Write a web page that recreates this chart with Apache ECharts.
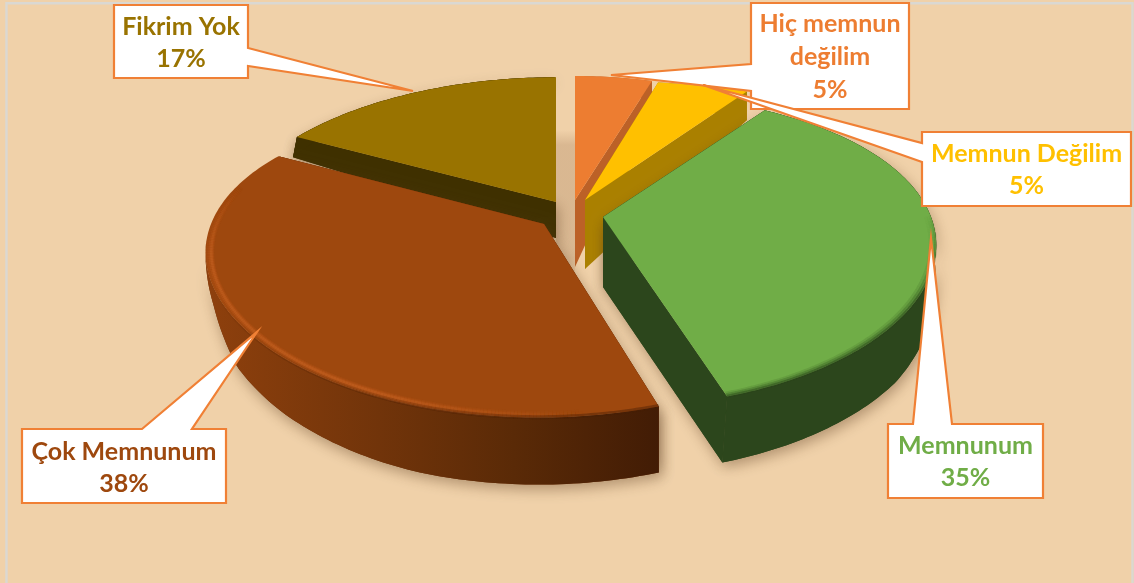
<!DOCTYPE html>
<html><head><meta charset="utf-8">
<style>html,body{margin:0;padding:0;background:#F0D1A9}#c{width:1134px;height:583px}</style>
<script src="https://cdn.jsdelivr.net/npm/echarts@6/dist/echarts.min.js"></script>
</head><body><div id="c"></div>
<script>
const categories = ['Hiç memnun\ndeğilim', 'Memnun Değilim', 'Memnunum', 'Çok Memnunum', 'Fikrim Yok'];
const values = [5, 5, 35, 38, 17];
const topColors = ['#ED7D31', '#FFC000', '#70AD47', '#9E480E', '#997300'];
const wallColors = ['#BC6127', '#AA8000', '#2C461C', '#6F320A', '#3F3000'];

// projection of each exploded slice: apex, radii, perspective and wall depth
const sliceGeom = [
  {ax:575,ay:200,rx:297,ry:145,r:.145,q:.17,s:0, d0:67,dk:.75,df:0,bx:0,order:20},
  {ax:585,ay:200,rx:348,ry:195,r:.385,q:.17,s:18,d0:69,dk:.72,df:0,bx:0,order:30},
  {ax:603,ay:217,rx:328,ry:158,r:.205,q:.157,s:8,d0:70,bx:-5,order:40,
    depth:[[-1,0],[0,24],[.13,30],[.42,55],[.58,62],[.95,66],[1,66]]},
  {ax:544,ay:224,rx:333,ry:158,r:.225,q:.17,s:-5,d0:68,bx:0,order:50,
    depth:[[-1,0],[.1,0],[.2,2],[.37,17],[.55,45],[.72,55],[.95,66],[1,67]]},
  {ax:556,ay:202,rx:322,ry:144,r:.134,q:.17,s:0, d0:36,dk:.92,df:0,bx:8,order:10}
];
// callout boxes: box rectangle, tail base on a box side, tail tip
const calloutGeom = [
  {x:751,y:3,w:158,h:106,tail:[[751,64],[611,75],[751,91]],lines:[24,57,90]},
  {x:922,y:132,w:209,h:74,tail:[[922,143],[703,85],[922,162]],lines:[154,186]},
  {x:888,y:424,w:155,h:74,tail:[[913,424],[931,238],[952,424]],lines:[446,478]},
  {x:22,y:429,w:204,h:74,tail:[[142,429],[257,332],[192,429]],lines:[452,484]},
  {x:114,y:5,w:134,h:73,tail:[[248,48],[413,91],[248,66]],lines:[27,59]}
];
const FONT = 'Lato, "Open Sans", sans-serif';
const total = values.reduce((a, b) => a + b, 0);

function depthAt(g, v) {
  if (g.depth) {
    const tb = g.depth;
    for (let i = 1; i < tb.length; i++) {
      if (v <= tb[i][0]) {
        const a = tb[i - 1], b = tb[i];
        return a[1] + (b[1] - a[1]) * (v - a[0]) / (b[0] - a[0]);
      }
    }
    return tb[tb.length - 1][1];
  }
  return g.d0 * (v < 0 ? 1 + g.dk * v : 1 + g.df * v);
}
function pt(g, t, eps) {
  const u = Math.sin(t), v = -Math.cos(t), k = 1 - (eps || 0);
  return {
    x: g.ax + k * (g.rx * u * (1 + g.q * v) + g.s * v),
    y: g.ay + k * (g.ry * v * (1 + g.r * v)),
    d: depthAt(g, v),
    v
  };
}
function arc(g, a0, a1, eps) {
  const pts = [], n = Math.max(2, Math.ceil((a1 - a0) * 180 / Math.PI));
  for (let i = 0; i <= n; i++) pts.push(pt(g, a0 + (a1 - a0) * i / n, eps));
  return pts;
}
function calloutPoints(c) {
  const x0 = c.x, x1 = c.x + c.w, y0 = c.y, y1 = c.y + c.h, t = c.tail;
  if (t[0][0] === x0 && t[2][0] === x0) return [[x0,y0],[x1,y0],[x1,y1],[x0,y1],t[2],t[1],t[0]];
  if (t[0][0] === x1 && t[2][0] === x1) return [[x0,y0],[x1,y0],t[0],t[1],t[2],[x1,y1],[x0,y1]];
  return [[x0,y0],t[0],t[1],t[2],[x1,y0],[x1,y1],[x0,y1]];
}
function wallFill(i) {
  if (i === 3) return new echarts.graphic.LinearGradient(0, 0, 1, 0, [
    {offset:0, color:'#8E400D'},{offset:.385, color:'#71340A'},{offset:.68, color:'#5A2A07'},{offset:1, color:'#421C05'}]);
  return wallColors[i];
}
// rim shading drawn as short strokes so that it can fade along the arc
function bevel(out, g, a0, a1, eps, width, rgb, alphaFn, z) {
  const n = Math.ceil((a1 - a0) * 100);
  for (let i = 0; i < n; i++) {
    const t0 = a0 + (a1 - a0) * i / n, t1 = a0 + (a1 - a0) * (i + 1) / n;
    const al = alphaFn((i + .5) / n);
    if (al <= .01) continue;
    const p = pt(g, t0, eps), q = pt(g, t1, eps);
    out.push({type:'line', z2:z, silent:true, shape:{x1:p.x,y1:p.y,x2:q.x,y2:q.y},
      style:{stroke:'rgba(' + rgb + ',' + al.toFixed(3) + ')', lineWidth:width, lineCap:'butt'}});
  }
}
const ramp = (x, a, b) => Math.max(0, Math.min(1, (x - a) / (b - a)));
function renderItem(params, api) {
  const i = params.dataIndex, g = sliceGeom[i];
  let before = 0;
  for (let k = 0; k < i; k++) before += values[k];
  const value = api.value(0);
  const a0 = before / total * 2 * Math.PI, a1 = (before + value) / total * 2 * Math.PI;
  const rim = arc(g, a0, a1);
  const bot = p => [p.x + g.bx * p.v, p.y + p.d];
  const top = [[g.ax, g.ay]].concat(rim.map(p => [p.x, p.y]));
  const wall = rim.map(p => [p.x, p.y]).concat(rim.map(bot).reverse());
  const apexBottom = [g.ax, g.ay + g.d0];
  const first = rim[0], last = rim[rim.length - 1];
  const shadow = {shadowBlur:14, shadowColor:'rgba(90,60,30,.42)', shadowOffsetX:2, shadowOffsetY:5};
  const children = [];
  const Z = g.order;
  const hasShadow = i >= 2;
  [first, last].forEach(p => {
    if (Math.abs(p.x - g.ax) < 1) return;
    const face = [[g.ax,g.ay],[p.x,p.y],bot(p),apexBottom];
    if (hasShadow) children.push({type:'polygon', z2:Z, silent:true, shape:{points:face},
      style:Object.assign({fill:wallColors[i]}, shadow)});
    children.push({type:'polygon', z2:Z + 1, silent:true, shape:{points:face}, style:{fill:wallColors[i]}});
  });
  if (hasShadow) children.push({type:'polygon', z2:Z, silent:true, shape:{points:wall},
    style:Object.assign({fill:wallColors[i]}, shadow)});
  children.push({type:'polygon', z2:Z + 2, silent:true, shape:{points:wall}, style:{fill:wallFill(i)}});
  children.push({type:'polygon', z2:Z + 4, silent:true, shape:{points:top}, style:{fill:topColors[i]}});
  if (i === 3) {
    const glow = t => ramp(t, .08, .32) * (1 - ramp(t, .7, .9));
    bevel(children, g, a0, a1, .002, 4, '70,32,6', t => (1 - ramp(t, .3, .6)) * .45, Z + 5);
    bevel(children, g, a0, a1, .014, 8, '185,85,25', t => glow(t) * .3, Z + 6);
    bevel(children, g, a0, a1, .016, 5, '190,90,28', t => glow(t) * .4, Z + 7);
    bevel(children, g, a0, a1, .017, 2.5, '200,100,36', t => glow(t) * .45, Z + 8);
  }
  if (i === 2) {
    const fade = t => ramp(t, .42, .65);
    bevel(children, g, a0, a1, .002, 3, '44,70,28', t => fade(t) * .55, Z + 5);
    bevel(children, g, a0, a1, .008, 4, '50,85,32', t => fade(t) * .35, Z + 6);
    bevel(children, g, a0, a1, .016, 4, '70,115,45', t => fade(t) * .25, Z + 7);
  }
  const c = calloutGeom[i], pct = Math.round(value / total * 100) + '%';
  children.push({type:'polygon', z2:200 + i * 2, silent:true, shape:{points:calloutPoints(c)},
    style:{fill:'#FFFFFF', stroke:'#F08035', lineWidth:2.2, lineJoin:'miter'}});
  categories[i].split('\n').concat([pct]).forEach((line, n) => children.push({type:'text', z2:201 + i * 2, silent:true,
    style:{text:line, x:c.x + c.w / 2, y:c.lines[n], align:'center', verticalAlign:'middle',
      font:'bold 25px ' + FONT, fill:topColors[i]}}));
  return {type:'group', children};
}
const chart = echarts.init(document.getElementById('c'), null, {renderer:'canvas'});
chart.setOption({
  backgroundColor:'#F0D1A9',
  animation:false,
  graphic:[
    {type:'polyline', z:-1, silent:true, shape:{points:[[6.5,583],[6.5,3.2],[1132.5,3.2],[1132.5,583]]},
      style:{fill:'none', stroke:'#DAD8D2', lineWidth:2.4}},
    {type:'rect', z:-1, silent:true, shape:{x:sliceGeom[4].ax,y:sliceGeom[4].ay-72,width:sliceGeom[0].ax-sliceGeom[4].ax,height:150},
      style:{fill:new echarts.graphic.LinearGradient(0,0,0,1,[
        {offset:0,color:'rgba(165,125,90,0)'},{offset:.1,color:'rgba(165,125,90,.3)'},{offset:.85,color:'rgba(165,125,90,.3)'},{offset:1,color:'rgba(165,125,90,0)'}])}}
  ],
  series:[{type:'custom', coordinateSystem:'none', renderItem, data:values.map((v, i) => ({name:categories[i], value:[v]})), silent:true, clip:false, z:2}]
});
</script></body></html>
